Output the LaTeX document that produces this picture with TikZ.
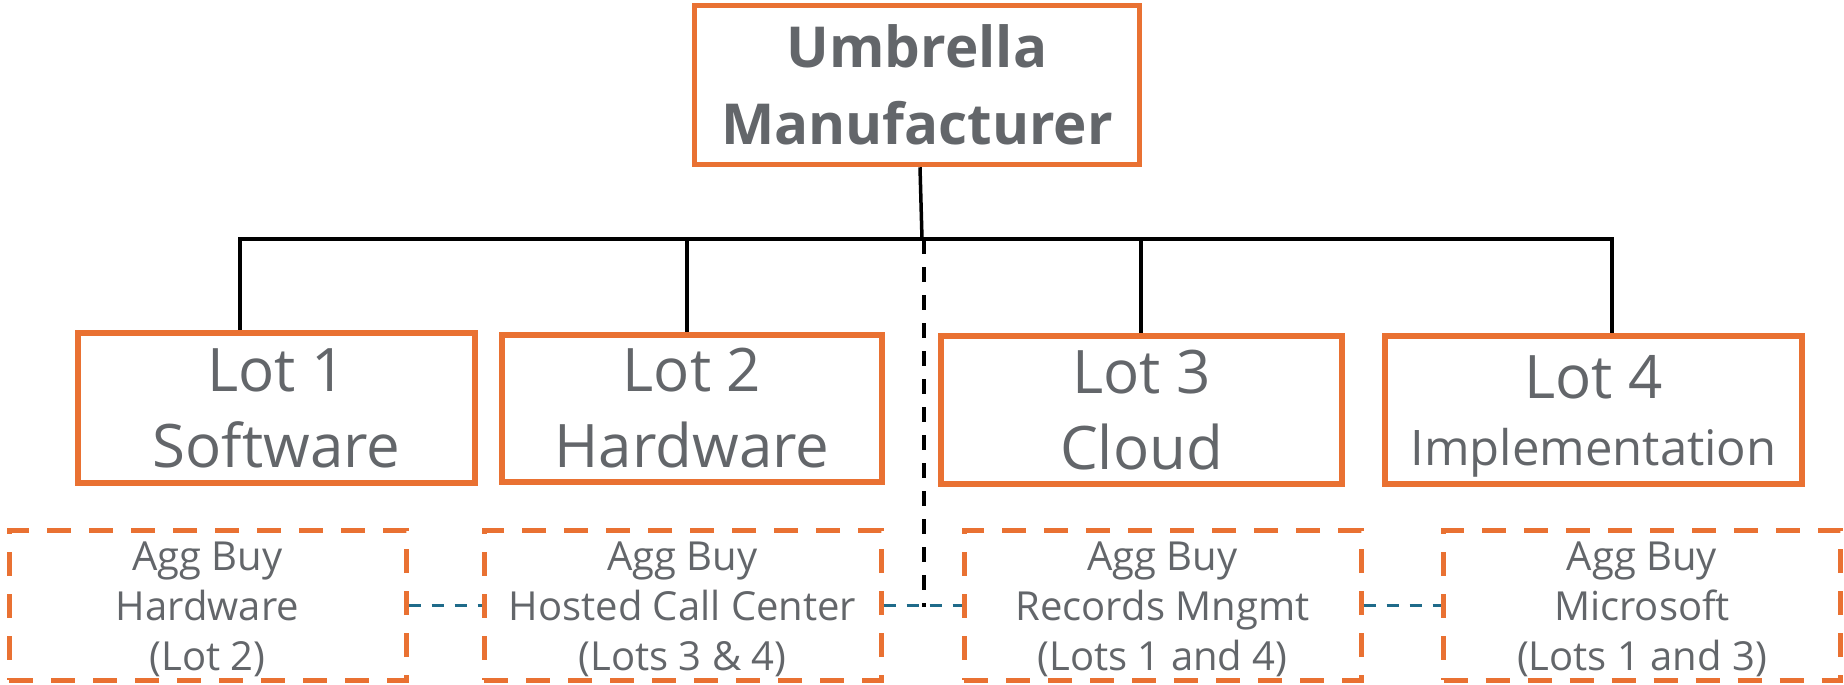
\documentclass[tikz,border=0pt]{standalone}
\usepackage{fontspec}
\setmainfont{Open Sans}
\definecolor{lotorange}{HTML}{E97132}
\definecolor{txtgray}{HTML}{63666A}
\definecolor{linkblue}{HTML}{1F6B8A}
\begin{document}
\begin{tikzpicture}[x=1pt,y=-1pt,
  solidbox/.style={draw=lotorange, line width=5.5pt, inner sep=0pt},
  aggbox/.style={draw=lotorange, line width=5pt, dash pattern=on 24pt off 18pt,
    inner sep=0pt, minimum width=397pt, minimum height=150pt},
  boxtext/.style={inner sep=0pt, text=txtgray, align=center},
  headfont/.style={font=\fontsize{56.5}{77}\selectfont\bfseries},
  lotfont/.style={font=\fontsize{60}{76}\selectfont},
  aggfont/.style={font=\fontsize{40}{50}\selectfont},
  tree/.style={draw=black, line width=3.5pt},
  treedash/.style={draw=black, line width=3.5pt, dash pattern=on 15pt off 13pt},
  link/.style={draw=linkblue, line width=3pt, dash pattern=on 12pt off 11pt}]
\useasboundingbox (0,0) rectangle (1844,685);

% head of the tree
\node[solidbox, minimum width=445pt, minimum height=159pt] (top) at (917,85) {};
\node[boxtext, headfont] (toptext) at (top.center) {Umbrella\\Manufacturer};

% the four lots
\node[solidbox, minimum width=397pt, minimum height=150pt] (lot1) at (276.5,408) {};
\node[solidbox, minimum width=380pt, minimum height=147pt] (lot2) at (692,408.5) {};
\node[solidbox, minimum width=401pt, minimum height=148pt] (lot3) at (1141.5,410) {};
\node[solidbox, minimum width=417pt, minimum height=148pt] (lot4) at (1593.5,410) {};
\node[boxtext, lotfont] (lot1text) at (lot1.center) {Lot 1\\Software};
\node[boxtext, lotfont] (lot2text) at (lot2.center) {Lot 2\\Hardware};
\node[boxtext, lotfont] (lot3text) at (lot3.center) {Lot 3\\Cloud};
\node[boxtext, lotfont] (lot4text) at ([yshift=-6pt]lot4.center)
     {Lot 4\\[-9pt]{\fontsize{49}{59}\selectfont Implementation}};

% aggregated buys
\node[aggbox] (agg1) at (207.5,605) {};
\node[aggbox] (agg2) at (682.5,605) {};
\node[aggbox] (agg3) at (1162.5,605) {};
\node[aggbox] (agg4) at (1642,605) {};
\node[boxtext, aggfont] (agg1text) at ([yshift=-4pt]agg1.center) {Agg Buy\\Hardware\\(Lot 2)};
\node[boxtext, aggfont] (agg2text) at ([yshift=-4pt]agg2.center) {Agg Buy\\Hosted Call Center\\(Lots 3 \& 4)};
\node[boxtext, aggfont] (agg3text) at ([yshift=-4pt]agg3.center) {Agg Buy\\Records Mngmt\\(Lots 1 and 4)};
\node[boxtext, aggfont] (agg4text) at ([yshift=-4pt]agg4.center) {Agg Buy\\Microsoft\\(Lots 1 and 3)};

% bus of the tree
\coordinate (busl) at (240,239);
\coordinate (busr) at (1612,239);
\coordinate (busm) at (922,239);
\coordinate (d2) at (687,239);
\coordinate (d3) at (1141,239);
\coordinate (dd) at (924,239);
\coordinate (ddend) at (924,607);

\draw[tree] ([xshift=3pt]top.south) -- (busm);
\draw[tree] ([xshift=-1.75pt]busl) -- ([xshift=1.75pt]busr);
\draw[tree] (busl) -- (busl |- lot1.north);
\draw[tree] (d2) -- (d2 |- lot2.north);
\draw[tree] (d3) -- (d3 |- lot3.north);
\draw[tree] (busr) -- (busr |- lot4.north);
\draw[treedash] (dd) -- (ddend);

% links between the aggregated buys
\draw[link] (agg1.east) -- (agg2.west);
\draw[link] (agg2.east) -- (agg3.west);
\draw[link] (agg3.east) -- (agg4.west);
\end{tikzpicture}
\end{document}
